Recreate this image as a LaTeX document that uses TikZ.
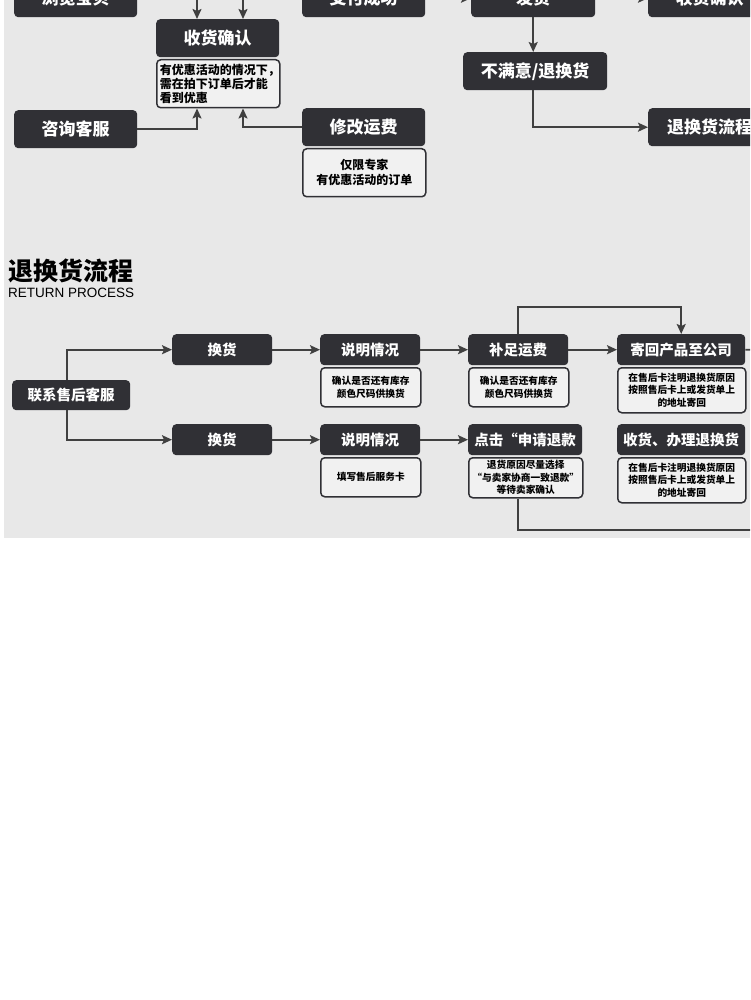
\documentclass[tikz,border=0pt]{standalone}
\usepackage{fontspec}
\setmainfont{Noto Sans CJK SC}
\newfontfamily\latinsans{Liberation Sans}
\usetikzlibrary{arrows.meta}
\definecolor{bgc}{HTML}{E8E8E8}
\definecolor{dk}{HTML}{303035}
\definecolor{lnc}{HTML}{404040}
\definecolor{notefill}{HTML}{F1F1F1}
\begin{document}
\begin{tikzpicture}[x=1pt,y=-1pt,
  hd/.style={fill=dk,rounded corners=4pt,text=white,font=\bfseries\fontsize{17}{17}\selectfont,minimum height=38pt,inner sep=0pt,anchor=north west},
  hs/.style={fill=dk,rounded corners=4pt,text=white,font=\bfseries\fontsize{14.5}{14.5}\selectfont,minimum height=31pt,inner sep=0pt,anchor=north west},
  nt/.style={draw=dk,line width=1.5pt,fill=notefill,rounded corners=4pt,text=black,align=center,inner sep=0pt,anchor=north west},
  ntb/.style={nt,font=\bfseries\fontsize{9.7}{12.5}\selectfont},
  arr/.style={draw=lnc,line width=1.8pt,-{Stealth[length=10pt,width=9pt,inset=2pt]}},
  ln/.style={draw=lnc,line width=1.8pt}
]
\useasboundingbox (0,0) rectangle (750,1000);
\clip (0,0) rectangle (750,1000);
\fill[bgc] (4,0) rectangle (750,538);

% top row (cut off)
\node[hd,minimum width=123pt] (lb) at (14,-21) {浏览宝贝};
\node[hd,minimum width=123pt] (zf) at (302,-21) {支付成功};
\node[hd,minimum width=124pt] (fh) at (471,-21) {发货};
\node[hd,minimum width=123pt] (sq) at (648,-21) {收货确认};
\draw[arr] (zf.east) -- (fh.west);
\draw[arr] (fh.east) -- (sq.west);

% second block
\node[hd,minimum width=123pt] (sq2) at (156,19) {收货确认};
\node[nt,minimum width=123pt,minimum height=48pt,align=left,text width=117pt,font=\bfseries\fontsize{12}{14}\selectfont] (sqn) at (156,59) {有优惠活动的情况下，\\需在拍下订单后才能\\看到优惠};
\coordinate (a1) at (197,-30);
\coordinate (a2) at (243,-30);
\draw[arr] (a1) -- (a1 |- sq2.north);
\draw[arr] (a2) -- (a2 |- sq2.north);

\node[hd,minimum width=123pt] (zx) at (14,110) {咨询客服};
\node[hd,minimum width=123pt] (xg) at (302,108) {修改运费};
\node[nt,minimum width=123pt,minimum height=48pt,font=\bfseries\fontsize{12}{15}\selectfont] (xgn) at (302,148) {仅限专家\\有优惠活动的订单};
\draw[arr] (zx.east) -| (a1 |- sqn.south);
\draw[arr] (xg.west) -| (a2 |- sqn.south);

\node[hd,minimum width=144pt] (bm) at (463,52) {不满意/退换货};
\node[hd,minimum width=123pt] (th) at (648,108) {退换货流程};
\draw[arr] (fh.south) -- (fh.south |- bm.north);
\draw[arr] (fh.south |- bm.south) |- (th.west);

% title
\node[anchor=north west,inner sep=0pt,font=\bfseries\fontsize{25}{25}\selectfont] (t1) at (8,259) {退换货流程};
\node[anchor=north west,inner sep=0pt,font=\latinsans\fontsize{13.5}{13.5}\selectfont] (t2) at (8,288) {RETURN PROCESS};

% return process
\node[hs,minimum width=118pt,minimum height=30pt] (lx) at (12,380) {联系售后客服};
\node[hs,minimum width=100pt] (h1) at (172,334) {换货};
\node[hs,minimum width=100pt] (h2) at (172,424) {换货};
\coordinate (b1) at (67,0);
\draw[arr] (b1 |- lx.north) |- (h1.west);
\draw[arr] (b1 |- lx.south) |- (h2.west);

\node[hs,minimum width=100pt] (sm1) at (320,334) {说明情况};
\node[ntb,minimum width=100pt,minimum height=39pt] (sm1n) at (320,367) {确认是否还有库存\\颜色尺码供换货};
\node[hs,minimum width=100pt] (bz) at (468,334) {补足运费};
\node[ntb,minimum width=100pt,minimum height=39pt] (bzn) at (468,367) {确认是否还有库存\\颜色尺码供换货};
\node[hs,minimum width=128pt] (jh) at (617,334) {寄回产品至公司};
\node[ntb,minimum width=128pt,minimum height=45pt] (jhn) at (617,367) {在售后卡注明退换货原因\\按照售后卡上或发货单上\\的地址寄回};

\node[hs,minimum width=100pt] (sm2) at (320,424) {说明情况};
\node[ntb,minimum width=100pt,minimum height=39pt] (sm2n) at (320,457) {填写售后服务卡};
\node[hs,minimum width=114pt] (dj) at (468,424) {点击“申请退款};
\node[ntb,minimum width=114pt,minimum height=40pt] (djn) at (468,457) {退货原因尽量选择\\“与卖家协商一致退款”\\等待卖家确认};
\node[hs,minimum width=128pt] (sh) at (617,424) {收货、办理退换货};
\node[ntb,minimum width=128pt,minimum height=45pt] (shn) at (617,457) {在售后卡注明退换货原因\\按照售后卡上或发货单上\\的地址寄回};

\draw[arr] (h1.east) -- (sm1.west);
\draw[arr] (sm1.east) -- (bz.west);
\draw[arr] (bz.east) -- (jh.west);
\draw[arr] (bz.north) -- ++(0,-27) -| (jh.north);
\coordinate (e1) at (760,350);
\draw[ln] (jh.east) -- (e1);
\draw[arr] (h2.east) -- (sm2.west);
\draw[arr] (sm2.east) -- (dj.west);
\coordinate (e2) at (760,530);
\draw[ln] (bz.south |- djn.south) |- (e2);
\end{tikzpicture}
\end{document}
